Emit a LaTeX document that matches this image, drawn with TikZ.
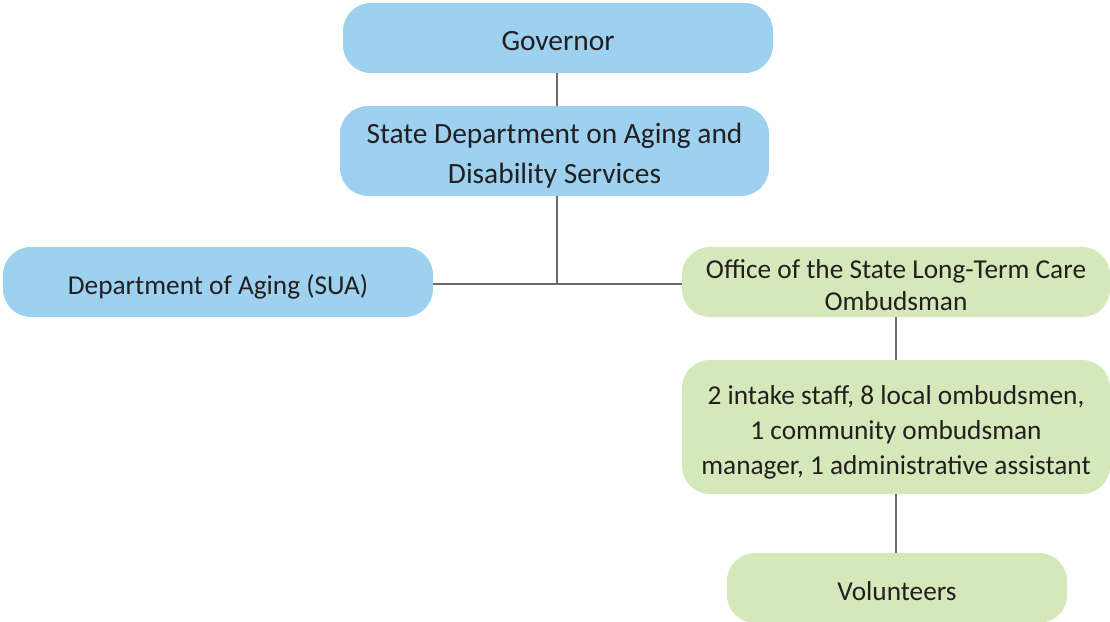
\documentclass[tikz,border=0pt]{standalone}
\usepackage{fontspec}
\setmainfont{Carlito}
\usetikzlibrary{calc}
\definecolor{govblue}{HTML}{9DD1EF}
\definecolor{ombgreen}{HTML}{D5E8B9}
\definecolor{linkgray}{HTML}{6B6B6B}
\definecolor{textdark}{HTML}{231F20}
\newcommand{\toplift}{\rule{0pt}{31pt}}

\begin{document}
\begin{tikzpicture}[x=1pt, y=-1pt,
	orgbox/.style={rounded corners=28pt, inner sep=0pt, align=center, text=textdark, font=\fontsize{27.3}{34}\selectfont,
		execute at begin node={\rule{0pt}{32pt}}, execute at end node={\rule[-7pt]{0pt}{7pt}}},
	bluebox/.style={orgbox, fill=govblue},
	greenbox/.style={orgbox, fill=ombgreen},
	link/.style={draw=linkgray, line width=2.6pt}]
			%%%%% START %%%%%
			
			\useasboundingbox (0, 0) rectangle (1110, 621);
			
			\node[bluebox, minimum width=430, minimum height=70, font=\fontsize{29.4}{34}\selectfont] (gov) at (558, 38) {Governor};
			\node[bluebox, minimum width=429, minimum height=90, font=\fontsize{29.4}{40}\selectfont] (sdads) at (554.5, 151) {\toplift State Department on Aging and\\Disability Services};
			
			\node[bluebox, minimum width=430, minimum height=70] (sua) at (218, 282) {Department of Aging (SUA)};
			\node[greenbox, minimum width=428, minimum height=70, font=\fontsize{27.3}{32}\selectfont] (ombud) at (896, 282) {\toplift Office of the State Long-Term Care\\Ombudsman};
			
			\node[greenbox, minimum width=428, minimum height=134, font=\fontsize{27.3}{35}\selectfont] (staff) at (896, 427) {\toplift 2 intake staff, 8 local ombudsmen,\\1 community ombudsman\\manager, 1 administrative assistant};
			\node[greenbox, minimum width=340, minimum height=70] (vol) at (897, 588) {Volunteers};
			
			\coordinate (fork) at (557, 284);
			
			\draw[link] (gov.south -| fork) -- (sdads.north -| fork);
			\draw[link] (sdads.south -| fork) -- (fork);
			\draw[link] (sua.east |- fork) -- (ombud.west |- fork);
			\draw[link] (ombud.south) -- (staff.north);
			\draw[link] (staff.south) -- (vol.north -| staff.south);
			
			%%%%% END %%%%%
		\end{tikzpicture}
\end{document}
